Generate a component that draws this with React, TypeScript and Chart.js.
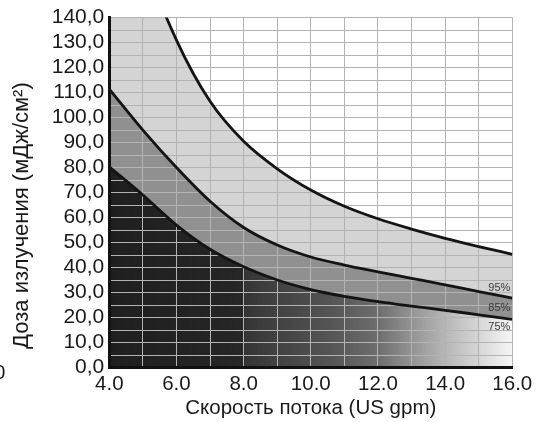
import React, { useEffect, useRef } from 'react';
import { Chart, registerables } from 'chart.js';

Chart.register(...registerables);

// Flow rate (US gpm)
const flowRates = [4, 5, 6, 7, 8, 9, 10, 11, 12, 13, 14, 15, 16];
// Dose (mJ/cm²) per transmittance curve
const dose95 = [215, 165, 131, 106.5, 90.5, 79.5, 71, 64.5, 59.5, 55.4, 51.7, 48.4, 45.3];
const dose85 = [111.4, 95, 80, 66.5, 56, 49, 44.2, 41, 38.3, 35.7, 33.1, 30.4, 27.8];
const dose75 = [80.3, 69, 57, 47.3, 40.3, 35, 31.2, 28.5, 26.4, 24.6, 22.9, 21.1, 19.3];

const seriesLabels = ['95%', '85%', '75%'];
const labelDoses = [31.8, 23.8, 16.1];

const xTitle = 'Скорость потока (US gpm)';
const yTitle = 'Доза излучения (мДж/см²)';

// gradient under the lowest curve
const gradientX = [4, 7.95, 8.05, 9, 10, 11, 12, 13, 14, 15, 16];
const gradientShade = ['#1f1f1f', '#262626', '#353535', '#424242', '#4d4d4d', '#5b5b5b', '#6e6e6e', '#939393', '#b6b6b6', '#d6d6d6', '#f6f6f6'];

const FONT = "'Liberation Sans', Arial, Helvetica, sans-serif";

const toPoints = (ys: number[]) => flowRates.map((x, i) => ({ x, y: ys[i] }));

export default function App() {
  const canvasRef = useRef<HTMLCanvasElement | null>(null);

  useEffect(() => {
    const canvas = canvasRef.current;
    if (!canvas) return;

    const gridOverFill = {
      id: 'gridOverFill',
      beforeDatasetsDraw(chart: any) {
        const area = chart.chartArea;
        const xs = chart.scales.x;
        const ys = chart.scales.y;
        xs.drawGrid(area);
        ys.drawGrid(area);
        if (xs.drawBorder) xs.drawBorder();
        if (ys.drawBorder) ys.drawBorder();
      },
      afterDatasetsDraw(chart: any) {
        const ctx = chart.ctx;
        const xs = chart.scales.x;
        const ys = chart.scales.y;
        ctx.save();
        ctx.font = `11px ${FONT}`;
        ctx.fillStyle = '#3a3a3a';
        ctx.textAlign = 'right';
        ctx.textBaseline = 'middle';
        seriesLabels.forEach((t, i) => {
          ctx.fillText(t, xs.getPixelForValue(16) - 2, ys.getPixelForValue(labelDoses[i]));
        });
        ctx.restore();
      },
      afterDraw(chart: any) {
        const ctx = chart.ctx;
        const ys = chart.scales.y;
        const area = chart.chartArea;
        ctx.save();
        ctx.font = `20px ${FONT}`;
        ctx.fillStyle = '#1a1a1a';
        ctx.textAlign = 'right';
        ctx.textBaseline = 'middle';
        ctx.fillText('0', area.left - 104, ys.getPixelForValue(0) + 6);
        // y-axis title
        ctx.font = `22px ${FONT}`;
        ctx.textAlign = 'center';
        ctx.translate(area.left - 87, (area.top + area.bottom) / 2 + 23);
        ctx.rotate(-Math.PI / 2);
        ctx.fillText(yTitle, 0, 0);
        ctx.restore();
      },
    };

    const lineStyle = {
      borderColor: '#141414',
      borderWidth: 2.8,
      pointRadius: 0,
      pointHoverRadius: 0,
      cubicInterpolationMode: 'monotone' as const,
      clip: 0,
    };

    const chart = new Chart(canvas, {
      type: 'line',
      data: {
        datasets: [
          { ...lineStyle, label: seriesLabels[0], data: toPoints(dose95), fill: '+1', backgroundColor: '#d4d4d4' },
          { ...lineStyle, label: seriesLabels[1], data: toPoints(dose85), fill: '+1', backgroundColor: '#909090' },
          {
            ...lineStyle,
            label: seriesLabels[2],
            data: toPoints(dose75),
            fill: 'origin',
            backgroundColor: (c: any) => {
              const ch = c.chart;
              const xs = ch.scales && ch.scales.x;
              if (!ch.chartArea || !xs) return '#222222';
              const x0 = xs.getPixelForValue(4);
              const x1 = xs.getPixelForValue(16);
              const g = ch.ctx.createLinearGradient(x0, 0, x1, 0);
              gradientX.forEach((v, i) => g.addColorStop((v - 4) / 12, gradientShade[i]));
              return g;
            },
          },
        ],
      },
      options: {
        animation: false,
        responsive: false,
        maintainAspectRatio: false,
        devicePixelRatio: 1,
        layout: { padding: { top: 14.7, right: 32.7, left: 0, bottom: 0 } },
        plugins: {
          legend: { display: false },
          tooltip: { enabled: false },
          filler: { drawTime: 'beforeDatasetsDraw' },
        },
        scales: {
          x: {
            type: 'linear',
            min: 4,
            max: 16,
            afterFit: (s: any) => { s.height = 54.5; },
            ticks: {
              stepSize: 1,
              autoSkip: false,
              maxRotation: 0,
              padding: 5,
              color: '#1a1a1a',
              font: { family: FONT, size: 20.5 },
              callback: (v: any) => (Number(v) % 2 === 0 ? Number(v).toFixed(1) : ''),
            },
            grid: { color: '#b3b3b3', lineWidth: 1, drawTicks: false },
            border: { display: true, color: '#111111', width: 3 },
            title: {
              display: true,
              text: xTitle,
              color: '#1a1a1a',
              font: { family: FONT, size: 20.5 },
              padding: { top: 0, bottom: 1 },
            },
          },
          y: {
            type: 'linear',
            min: 0,
            max: 140,
            afterFit: (s: any) => { s.width = 109.3; },
            ticks: {
              stepSize: 5,
              autoSkip: false,
              padding: 5,
              color: '#1a1a1a',
              font: { family: FONT, size: 21 },
              callback: (v: any) => (Number(v) % 10 === 0 ? Number(v).toFixed(1).replace('.', ',') : ''),
            },
            grid: { color: '#b3b3b3', lineWidth: 1, drawTicks: false },
            border: { display: true, color: '#111111', width: 3 },
            title: { display: false },
          },
        },
      },
      plugins: [gridOverFill],
    } as any);

    return () => chart.destroy();
  }, []);

  return (
    <div style={{ position: 'absolute', left: 0, top: 0, width: 545, height: 422 }}>
      <canvas ref={canvasRef} width={545} height={422} style={{ width: 545, height: 422, display: 'block' }} />
    </div>
  );
}
